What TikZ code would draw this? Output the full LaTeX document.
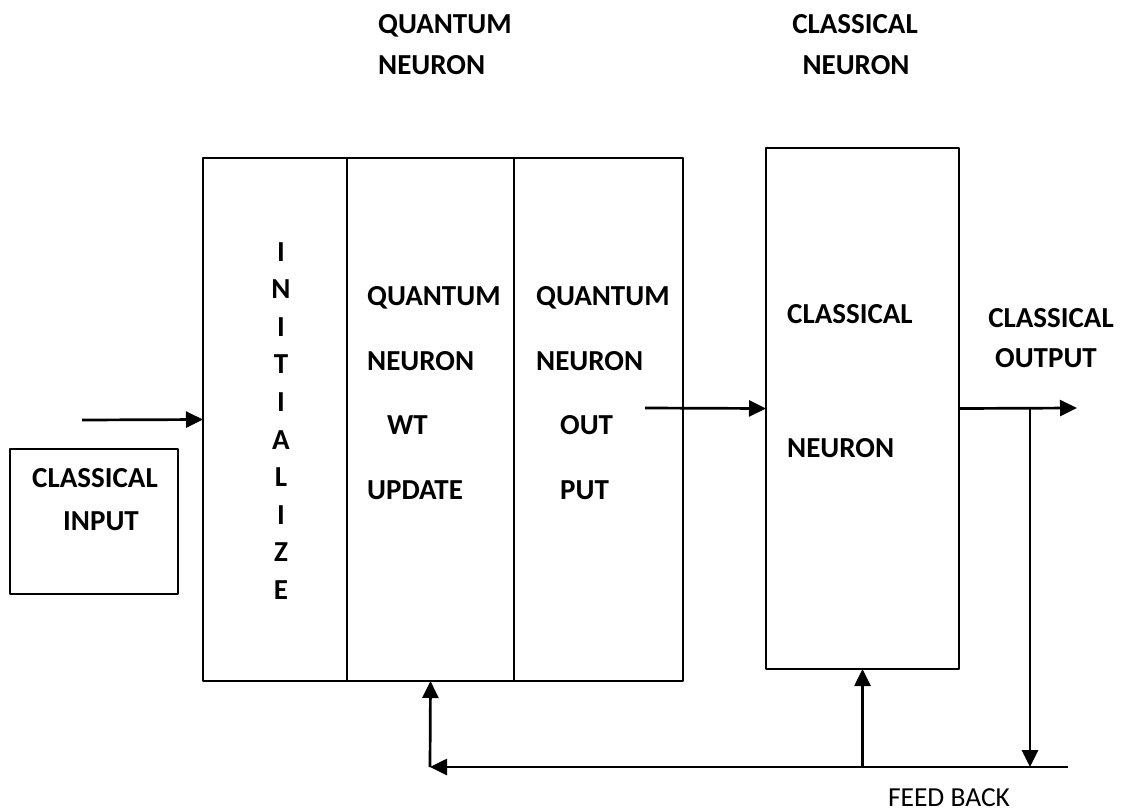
\documentclass[tikz,border=0pt]{standalone}
\usepackage{fontspec}
\setmainfont{Carlito}
\usetikzlibrary{arrows.meta,positioning}
\begin{document}
\begin{tikzpicture}[x=1pt,y=-1pt,line join=round,
	blk/.style={draw,line width=1.7pt,inner sep=0pt,outer sep=0pt},
	txt/.style={font=\bfseries\fontsize{29}{29}\selectfont,inner sep=0pt},
	arr/.style={line width=2.7pt,-{Triangle[length=17pt,width=16pt]}}]
	%Page frame.
	\useasboundingbox (0,0) rectangle (1124,811);
	%Headings.
	\node[txt,anchor=base west] (qhA) at (378,33) {QUANTUM};
	\node[txt,anchor=base west] (qhB) at (378,74) {NEURON};
	\node[txt,anchor=base] (chA) at (855,33) {CLASSICAL};
	\node[txt,anchor=base] (chB) at (856,74) {NEURON};
	%Classical input.
	\node[blk,anchor=north west,minimum width=168pt,minimum height=145pt] (cin) at (10,449) {};
	\node[txt,anchor=base] (cinA) at (95,487) {CLASSICAL};
	\node[txt,anchor=base] (cinB) at (101,530) {INPUT};
	%Quantum neuron, three columns.
	\node[blk,anchor=north west,minimum width=144pt,minimum height=523pt] (init) at (203,158) {};
	\node[blk,minimum width=167pt,minimum height=523pt,right=0pt of init] (upd) {};
	\node[blk,minimum width=169pt,minimum height=523pt,right=0pt of upd] (outp) {};
	\foreach \c [count=\i from 0] in {I,N,I,T,I,A,L,I,Z,E}
		\node[txt,anchor=base] (ini\i) at (281,{261+37.6*\i}) {\c};
	\node[txt,anchor=base west] (updA) at (367,305) {QUANTUM};
	\node[txt,anchor=base west] (updB) at (367,370) {NEURON};
	\node[txt,anchor=base west] (updC) at (387,434) {WT};
	\node[txt,anchor=base west] (updD) at (367,499) {UPDATE};
	\node[txt,anchor=base west] (outA) at (536,305) {QUANTUM};
	\node[txt,anchor=base west] (outB) at (536,370) {NEURON};
	\node[txt,anchor=base west] (outC) at (560,434) {OUT};
	\node[txt,anchor=base west] (outD) at (560,499) {PUT};
	%Classical neuron.
	\node[blk,anchor=north west,minimum width=193pt,minimum height=521pt] (cn) at (766,148) {};
	\node[txt,anchor=base west] (cnA) at (787,323) {CLASSICAL};
	\node[txt,anchor=base west] (cnB) at (787,457) {NEURON};
	%Classical output.
	\node[txt,anchor=base] (coA) at (1051,327) {CLASSICAL};
	\node[txt,anchor=base] (coB) at (1046,367) {OUTPUT};
	\node[inner sep=0pt,anchor=base,font=\fontsize{27.5}{27.5}\selectfont] (fb) at (949,806) {FEED BACK};
	%Points of the arrows.
	\coordinate (inS) at (82,420);
	\coordinate (qoS) at (645,408);
	\coordinate (outE) at (1077,408);
	\coordinate (jA) at (1030,408);
	\coordinate (jB) at (1030,767);
	\coordinate (fbR) at (1068,767);
	\coordinate (fbL) at (430,767);
	%Arrows.
	\draw[arr] (inS) -- (init.west);
	\draw[arr] (qoS) -- (cn.west);
	\draw[arr] (cn.east) -- (outE);
	\draw[arr] (jA) -- (jB);
	\draw[arr] (fbR) -- (fbL);
	\draw[arr] (cn.south |- fbL) -- (cn.south);
	\draw[arr] (fbL) -- (upd.south);
\end{tikzpicture}
\end{document}
